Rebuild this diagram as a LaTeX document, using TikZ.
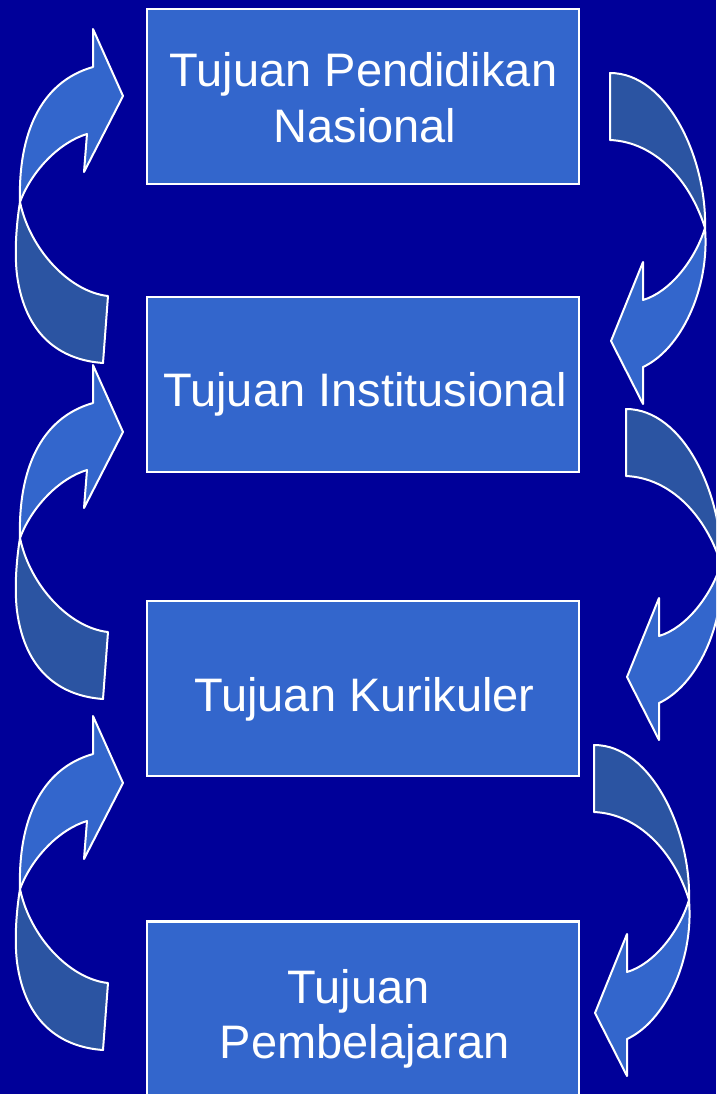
\documentclass[tikz,border=0pt]{standalone}
\usepackage{fontspec}
\setmainfont{Liberation Sans}
\definecolor{bgblue}{RGB}{0,0,153}
\definecolor{boxblue}{RGB}{51,102,204}
\definecolor{darkpart}{RGB}{43,84,162}
\tikzset{
  box/.style={draw=white, line width=2.5pt, fill=boxblue, minimum width=432pt, minimum height=175pt, inner sep=0pt},
  lbl/.style={text=white, font=\fontsize{47}{56}\selectfont, anchor=base, inner sep=0pt},
  arrowdark/.style={draw=white, line width=2pt, fill=darkpart, line join=round},
  arrowlight/.style={draw=white, line width=2pt, fill=boxblue, line join=round},
  uparrow/.pic={
    \path[arrowdark] (20,202) .. controls (30,250) and (70,292) .. (108,296) -- (103,363)
      .. controls (60,360) and (25,335) .. (17,275) .. controls (14,250) and (17,220) .. (20,202) -- cycle;
    \path[arrowlight] (20,202) .. controls (18,135) and (40,82) .. (93,67) -- (93,29) -- (123,96)
      -- (84,172) -- (87,134) .. controls (60,142) and (32,170) .. (20,202) -- cycle;
  },
  downarrow/.pic={
    \path[arrowdark] (610,73) .. controls (668,73) and (707,160) .. (705,228)
      .. controls (690,180) and (655,142) .. (610,140) -- cycle;
    \path[arrowlight] (705,228) .. controls (710,290) and (680,350) .. (643,367) -- (643,404)
      -- (611,341) -- (643,262) -- (643,300) .. controls (670,292) and (695,260) .. (705,228) -- cycle;
  }
}
\begin{document}
\begin{tikzpicture}[x=1pt,y=-1pt]
\useasboundingbox (0,0) rectangle (716,1094);
\clip (0,0) rectangle (716,1094);
\fill[bgblue] (0,0) rectangle (716,1094);

% boxes
\node[box] (b1) at (363,96.5) {};
\node[box] (b2) at (363,384.5) {};
\node[box] (b3) at (363,688.5) {};
\node[box] (b4) at (363,1009) {};

% texts
\node[lbl] (t1a) at (363.5,87) {Tujuan Pendidikan};
\node[lbl] (t1b) at (365,143) {Nasional};
\node[lbl] (t2) at (365,406) {Tujuan Institusional};
\node[lbl] (t3) at (364.5,711) {Tujuan Kurikuler};
\node[lbl] (t4a) at (358.5,1003) {Tujuan};
\node[lbl] (t4b) at (365,1058) {Pembelajaran};

% curved arrows, left side (upward)
\pic (la1) at (0,0) {uparrow};
\pic (la2) at (0,336) {uparrow};
\pic (la3) at (0,687) {uparrow};

% curved arrows, right side (downward)
\pic (ra1) at (0,0) {downarrow};
\pic (ra2) at (16,336) {downarrow};
\pic (ra3) at (-16,672) {downarrow};
\end{tikzpicture}
\end{document}
